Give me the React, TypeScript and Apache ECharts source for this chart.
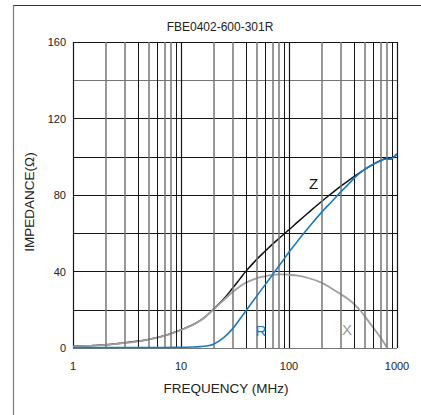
import React, { useEffect, useRef } from "react";
import * as echarts from "echarts";

const TITLE = "FBE0402-600-301R";
const X_NAME = "FREQUENCY (MHz)";
const Y_NAME = "IMPEDANCE(Ω)";

const freqs = [1, 1.5, 2, 3, 4, 5, 7, 10, 13, 15, 17, 20, 25, 30, 35, 40, 50, 60, 70, 80, 90, 100, 120, 150, 200, 250, 300, 350, 400, 450, 500, 600, 700, 800, 850, 900, 1000];
const zValues = [0.9, 1.3, 1.7, 2.7, 3.6, 4.5, 6.4, 9.5, 12.3, 14.3, 16.6, 20.3, 25.8, 31.2, 36.0, 40.2, 46.2, 50.6, 54.2, 57.1, 59.6, 61.8, 65.8, 70.6, 76.6, 81.0, 84.5, 87.3, 89.6, 91.6, 93.3, 96.0, 98.0, 99.1, 98.8, 99.2, 101.4];
const rValues = [0.3, 0.3, 0.3, 0.3, 0.3, 0.3, 0.3, 0.4, 0.5, 0.7, 1.0, 2.0, 5.6, 10.0, 15.0, 19.5, 27.0, 33.0, 38.1, 42.6, 46.6, 50.2, 55.9, 62.6, 70.9, 76.7, 81.5, 85.3, 88.7, 91.3, 93.4, 96.0, 97.8, 98.8, 98.7, 99.2, 101.5];
const xValues = [0.8, 1.2, 1.6, 2.6, 3.5, 4.4, 6.3, 9.4, 12.2, 14.2, 16.5, 20.2, 25.2, 29.2, 32.2, 34.2, 36.4, 37.5, 38.2, 38.5, 38.5, 38.3, 37.8, 36.6, 34.2, 31.0, 28.2, 25.7, 23.0, 20.0, 16.8, 10.8, 5.6, 0.7, null, null, null];

const yTicks = [0, 40, 80, 120, 160];
const minorMultipliers = [2, 3, 4, 5, 6, 7, 8, 9];
const minorDark = [4, 6, 9];
const decades = [1, 10, 100];

const curveLabels = [
  { name: "Z", freq: 169, value: 86.0, color: "#111111" },
  { name: "R", freq: 55, value: 8.9, color: "#1a7bc0" },
  { name: "X", freq: 344, value: 9.9, color: "#9a9a9a" },
];

const GRAY = "#767676";
const DARK = "#151515";
const FONT = "Liberation Sans, Arial, sans-serif";

export default function App() {
  const ref = useRef<HTMLDivElement>(null);
  useEffect(() => {
    if (!ref.current) return;
    const chart = echarts.init(ref.current, undefined, { renderer: "svg" });

    const pairs = (vals: (number | null)[]) =>
      freqs.map((f, i) => [f, vals[i]]).filter((p) => p[1] !== null);

    const minorLines: any[] = [];
    decades.forEach((d) => {
      minorMultipliers.forEach((m) => {
        const dark = minorDark.includes(m);
        minorLines.push({
          xAxis: d * m,
          lineStyle: { color: dark ? DARK : GRAY, width: dark ? 1 : 1.5, type: "solid" },
        });
      });
    });

    const ySplitColors = [GRAY, DARK, DARK, DARK, DARK, DARK, DARK, GRAY, DARK];

    const lineSeries = (name: string, vals: (number | null)[], color: string, z: number, width: number) => ({
      name,
      type: "line",
      data: pairs(vals),
      showSymbol: false,
      symbol: "none",
      smooth: 0.4,
      z,
      lineStyle: { color, width },
      itemStyle: { color },
    });

    const labelPoints = curveLabels.map((c) => ({
      coord: [c.freq, c.value],
      symbol: "circle",
      symbolSize: 1,
      itemStyle: { color: "rgba(0,0,0,0)" },
      label: {
        show: true,
        position: "inside",
        formatter: c.name,
        color: c.color,
        fontSize: 15,
        fontFamily: FONT,
      },
    }));

    chart.setOption({
      animation: false,
      backgroundColor: "#ffffff",
      grid: { left: 73, right: 24, top: 42, bottom: 67, containLabel: false },
      graphic: [
        { type: "line", shape: { x1: 13, y1: 5.5, x2: 421, y2: 5.5 }, style: { stroke: "#333", lineWidth: 1 } },
        { type: "line", shape: { x1: 13.5, y1: 5, x2: 13.5, y2: 415 }, style: { stroke: "#777", lineWidth: 1.2 } },
        {
          type: "text",
          x: 220,
          y: 27,
          style: { text: TITLE, fill: "#222", font: `12px ${FONT}`, textAlign: "center", textVerticalAlign: "middle" },
        },
      ],
      xAxis: {
        type: "log",
        logBase: 10,
        min: 1,
        max: 1000,
        name: X_NAME,
        nameLocation: "middle",
        nameGap: 33,
        nameTextStyle: { fontSize: 13.5, color: "#222", fontFamily: FONT, padding: [0, 18, 0, 0] },
        axisLine: { show: false },
        axisTick: { show: false },
        axisLabel: {
          margin: 12,
          fontSize: 11,
          color: "#222",
          fontFamily: FONT,
          formatter: (v: number) => String(Math.round(v)),
        },
        splitLine: { show: true, lineStyle: { color: DARK, width: 1.2 } },
        minorTick: { show: false },
      },
      yAxis: {
        type: "value",
        min: 0,
        max: 160,
        interval: 20,
        name: Y_NAME,
        nameLocation: "middle",
        nameGap: 32,
        nameTextStyle: { fontSize: 13.5, color: "#222", fontFamily: FONT, padding: [0, 14, 0, 0] },
        axisLine: { show: false },
        axisTick: { show: false },
        axisLabel: {
          margin: 7,
          fontSize: 11,
          color: "#222",
          fontFamily: FONT,
          formatter: (v: number) => (yTicks.includes(v) ? String(v) : ""),
        },
        splitLine: { show: true, lineStyle: { color: ySplitColors, width: 1.2 } },
      },
      series: [
        {
          name: "grid-minor",
          type: "line",
          data: [],
          z: 1,
          markLine: {
            silent: true,
            symbol: "none",
            label: { show: false },
            animation: false,
            data: minorLines,
          },
        },
        lineSeries("Z", zValues, "#111111", 3, 1.5),
        lineSeries("X", xValues, "#a0a0a0", 4, 1.8),
        {
          ...lineSeries("R", rValues, "#1a7bc0", 5, 1.6),
          markPoint: { silent: true, animation: false, data: labelPoints },
        },
      ],
    });

    return () => chart.dispose();
  }, []);

  return (
    <div
      ref={ref}
      style={{ position: "fixed", left: 0, top: 0, width: 421, height: 415, background: "#fff" }}
    />
  );
}
